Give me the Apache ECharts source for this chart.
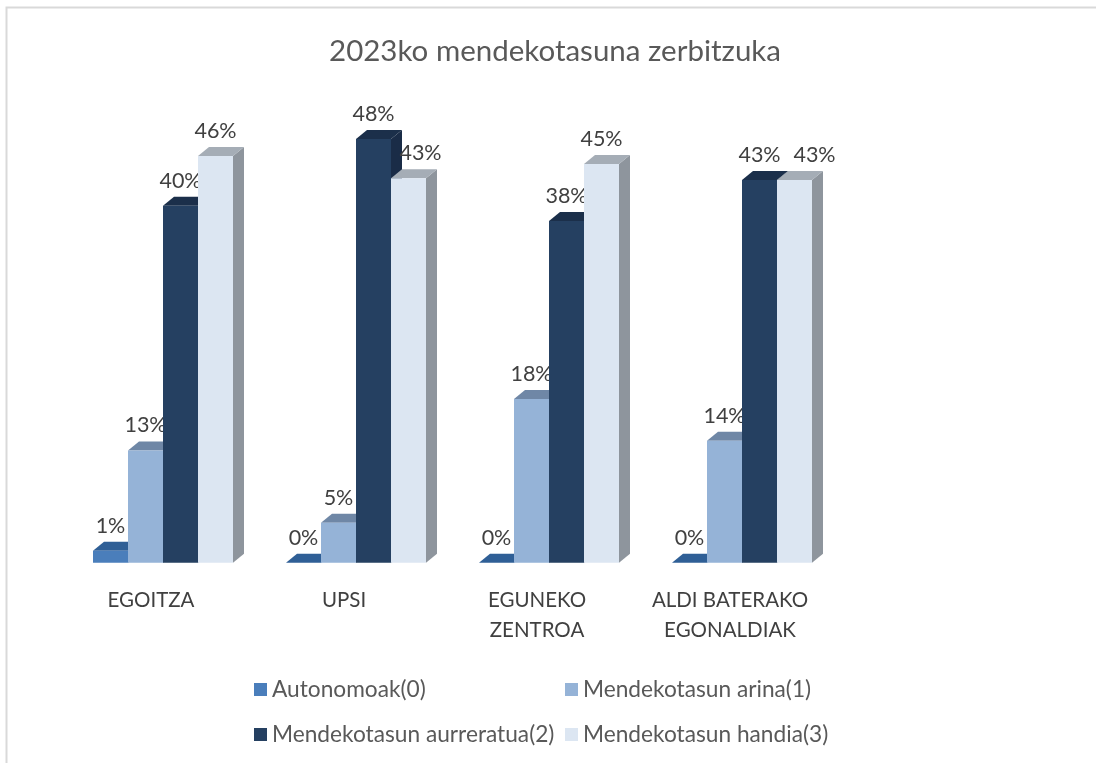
<!DOCTYPE html>
<html><head><meta charset="utf-8">
<style>html,body{margin:0;padding:0;background:#fff}#c{width:1096px;height:763px}</style>
<script src="https://cdn.jsdelivr.net/npm/echarts@6/dist/echarts.min.js"></script>
</head><body><div id="c"></div>
<script>
const chartTitle = '2023ko mendekotasuna zerbitzuka';
const categories = ['EGOITZA', 'UPSI', 'EGUNEKO\nZENTROA', 'ALDI BATERAKO\nEGONALDIAK'];
const seriesNames = ['Autonomoak(0)', 'Mendekotasun arina(1)', 'Mendekotasun aurreratua(2)', 'Mendekotasun handia(3)'];
const autonomoak = [1.35, 0, 0, 0];
const arina = [12.6, 4.5, 18.4, 13.7];
const aurreratua = [40.1, 47.6, 38.4, 43.0];
const handia = [45.7, 43.2, 44.8, 43.0];
const seriesValues = [autonomoak, arina, aurreratua, handia];

const FONT = 'Lato';
const faces = [
  {front: '#4a7ebb', top: '#2f5f96', side: '#2a5585'},
  {front: '#95b3d7', top: '#6f87a6', side: '#66809f'},
  {front: '#254061', top: '#1b2f4a', side: '#1a2c47'},
  {front: '#dce6f2', top: '#a5adb6', side: '#8e959d'}
];
const DEPTH_X = 11, DEPTH_Y = 9, BAR_RATIO = 35 / 193, GROUP_SHIFT = 12;
// labels the original moved sideways to keep them legible: "series:category" -> px
const labelNudge = {'3:1': 12, '3:3': 20};

function renderBar(params, api) {
  const si = params.seriesIndex, ci = api.value(0), v = api.value(1);
  const base = api.coord([ci, 0]);
  const top = api.coord([ci, v]);
  const w = api.size([1, 0])[0] * BAR_RATIO;
  const x0 = base[0] + GROUP_SHIFT + (si - 2) * w, x1 = x0 + w;
  const y0 = top[1], yb = base[1];
  const f = faces[si];
  const children = [
    {type: 'polygon', shape: {points: [[x1, y0], [x1 + DEPTH_X, y0 - DEPTH_Y], [x1 + DEPTH_X, yb - DEPTH_Y], [x1, yb]]}, style: {fill: f.side}},
    {type: 'polygon', shape: {points: [[x0, y0], [x0 + DEPTH_X, y0 - DEPTH_Y], [x1 + DEPTH_X, y0 - DEPTH_Y], [x1, y0]]}, style: {fill: f.top}},
    {type: 'rect', shape: {x: x0, y: y0, width: w, height: yb - y0}, style: {fill: f.front}},
    {type: 'text', z2: 50, x: x0 + w / 2 + (labelNudge[si + ':' + ci] || 0), y: y0 - 25,
      style: {text: Math.round(v) + '%', fill: '#404040', font: '21.5px ' + FONT, align: 'center', verticalAlign: 'middle'}}
  ];
  return {type: 'group', children};
}

const legendText = {fontFamily: FONT, fontSize: 22.7, color: '#595959'};
const chart = echarts.init(document.getElementById('c'), null, {renderer: 'canvas'});
chart.setOption({
  animation: false,
  backgroundColor: '#ffffff',
  title: {text: chartTitle, left: 550, top: 31, textAlign: 'center',
    textStyle: {fontFamily: FONT, fontSize: 29.5, fontWeight: 'normal', color: '#595959'}},
  grid: {left: 54.5, width: 772, top: 117.7, height: 445},
  xAxis: {type: 'category', data: categories,
    axisLine: {show: false}, axisTick: {show: false}, splitLine: {show: false},
    axisLabel: {interval: 0, margin: 23, fontFamily: FONT, fontSize: 20.5, color: '#404040', lineHeight: 30}},
  yAxis: {type: 'value', min: 0, max: 50, show: false, splitLine: {show: false}},
  legend: [
    {orient: 'vertical', left: 249, top: 673, icon: 'rect', itemWidth: 13, itemHeight: 13, itemGap: 22, itemStyle: {borderWidth: 0},
      data: [seriesNames[0], seriesNames[2]], textStyle: legendText},
    {orient: 'vertical', left: 560, top: 673, icon: 'rect', itemWidth: 13, itemHeight: 13, itemGap: 22, itemStyle: {borderWidth: 0},
      data: [seriesNames[1], seriesNames[3]], textStyle: legendText}
  ],
  graphic: [{type: 'polyline', silent: true, shape: {points: [[6.5, 763], [6.5, 7.5], [1096, 7.5]]}, style: {fill: 'none', stroke: '#d9d9d9', lineWidth: 2}}],
  series: seriesValues.map((vals, i) => ({
    type: 'custom', name: seriesNames[i], renderItem: renderBar, clip: false,
    coordinateSystem: 'cartesian2d', encode: {x: 0, y: 1}, z: 2 + i,
    itemStyle: {color: faces[i].front},
    data: vals.map((v, ci) => [ci, v])
  }))
});
</script></body></html>
